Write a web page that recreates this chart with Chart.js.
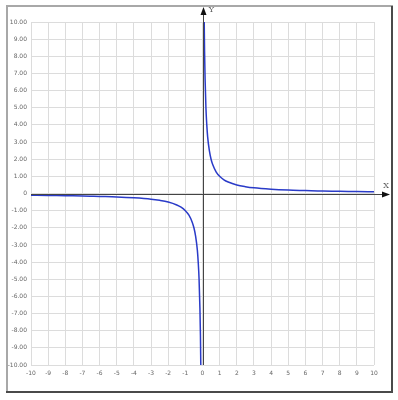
<!DOCTYPE html>
<html>
<head>
<meta charset="utf-8">
<script src="https://cdn.jsdelivr.net/npm/chart.js@4/dist/chart.umd.min.js"></script>
<style>
  body { margin: 0; background: #fff; }
  #wrap { width: 398px; height: 400px; position: relative; }
</style>
</head>
<body>
<div id="wrap"><canvas id="chart"></canvas></div>
<script>
// points (y = 1/x shape)
const posX = [0.1, 0.12, 0.15, 0.2, 0.25, 0.3, 0.4, 0.5, 0.6, 0.8, 1, 1.25, 1.5, 2, 2.5, 3, 4, 5, 6, 7, 8, 9, 10];
const posY = [10, 8.3, 6.7, 5, 4, 3.3, 2.5, 2, 1.67, 1.25, 1, 0.8, 0.67, 0.5, 0.4, 0.33, 0.25, 0.2, 0.17, 0.14, 0.13, 0.11, 0.1];
const negX = [-10, -9, -8, -7, -6, -5, -4, -3, -2.5, -2, -1.5, -1.25, -1, -0.8, -0.6, -0.5, -0.4, -0.3, -0.25, -0.2, -0.15, -0.12, -0.1];
const negY = [-0.1, -0.11, -0.13, -0.14, -0.17, -0.2, -0.25, -0.33, -0.4, -0.5, -0.67, -0.8, -1, -1.25, -1.67, -2, -2.5, -3.3, -4, -5, -6.7, -8.3, -10];

const axisMin = -10;
const axisMax = 10;

const toPoints = (xs, ys) => xs.map((x, i) => ({ x: x, y: ys[i] }));

// frame around the whole picture
const framePlugin = {
    id: "frame",
    beforeDraw(chart) {
        const ctx = chart.ctx;
        ctx.save();
        ctx.lineWidth = 2;
        ctx.strokeStyle = "#a8a8a8";
        ctx.beginPath();
        ctx.moveTo(7, 392);
        ctx.lineTo(7, 6);
        ctx.lineTo(393, 6);
        ctx.stroke();
        ctx.strokeStyle = "#4a4a4a";
        ctx.beginPath();
        ctx.moveTo(392, 6);
        ctx.lineTo(392, 392);
        ctx.lineTo(6, 392);
        ctx.stroke();
        ctx.restore();
    }
};

// x / y axes through zero with arrows
const axesPlugin = {
    id: "arrows",
    afterDatasetsDraw(chart) {
        const ctx = chart.ctx;
        const xs = chart.scales.x, ys = chart.scales.y;
        const x0 = Math.round(xs.getPixelForValue(0)) + 0.5;
        const y0 = Math.round(ys.getPixelForValue(0)) + 0.5;
        const area = chart.chartArea;
        ctx.save();
        ctx.strokeStyle = "#444";
        ctx.fillStyle = "#111";
        ctx.lineWidth = 1;
        ctx.beginPath();
        ctx.moveTo(area.left, y0);
        ctx.lineTo(386, y0);
        ctx.moveTo(x0, area.bottom);
        ctx.lineTo(x0, 12);
        ctx.stroke();
        // x arrow
        ctx.beginPath();
        ctx.moveTo(390, y0);
        ctx.lineTo(382, y0 - 3);
        ctx.lineTo(382, y0 + 3);
        ctx.closePath();
        ctx.fill();
        // y arrow
        ctx.beginPath();
        ctx.moveTo(x0, 7);
        ctx.lineTo(x0 - 3, 15);
        ctx.lineTo(x0 + 3, 15);
        ctx.closePath();
        ctx.fill();
        ctx.font = "8px 'DejaVu Serif'";
        ctx.fillStyle = "#555";
        ctx.textAlign = "center";
        ctx.textBaseline = "middle";
        ctx.fillText("X", 386, y0 - 9);
        ctx.fillText("Y", x0 + 8, 10);
        ctx.restore();
    }
};

new Chart(document.getElementById("chart"), {
    type: "scatter",
    data: {
        datasets: [
            {
                data: toPoints(negX, negY),
                showLine: true,
                borderColor: "#2a3bc8",
                borderWidth: 1.5,
                pointRadius: 0,
                cubicInterpolationMode: "monotone"
            },
            {
                data: toPoints(posX, posY),
                showLine: true,
                borderColor: "#2a3bc8",
                borderWidth: 1.5,
                pointRadius: 0,
                cubicInterpolationMode: "monotone"
            }
        ]
    },
    options: {
        responsive: true,
        maintainAspectRatio: false,
        animation: false,
        layout: { padding: { left: 0, right: 24, top: 22, bottom: 15 } },
        plugins: { legend: { display: false }, tooltip: { enabled: false } },
        scales: {
            x: {
                type: "linear",
                min: axisMin,
                max: axisMax,
                afterFit: function (scale) { scale.height = 20; },
                border: { display: false },
                grid: { color: "#dcdcdc", drawTicks: false },
                ticks: {
                    stepSize: 1,
                    padding: 5,
                    maxRotation: 0,
                    autoSkip: false,
                    color: "#666",
                    font: { size: 6, family: "DejaVu Sans" }
                }
            },
            y: {
                type: "linear",
                min: axisMin,
                max: axisMax,
                afterFit: function (scale) { scale.width = 31; },
                border: { display: false },
                grid: { color: "#dcdcdc", drawTicks: false },
                ticks: {
                    stepSize: 1,
                    padding: 4,
                    autoSkip: false,
                    color: "#666",
                    font: { size: 6, family: "DejaVu Sans" },
                    callback: function (value) {
                        return value === 0 ? "0" : value.toFixed(2);
                    }
                }
            }
        }
    },
    plugins: [framePlugin, axesPlugin]
});
</script>
</body>
</html>
